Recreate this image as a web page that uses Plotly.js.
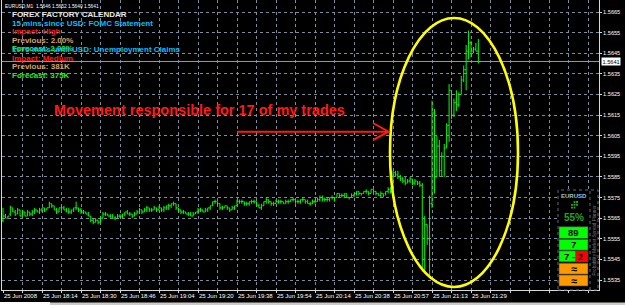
<!DOCTYPE html>
<html><head><meta charset="utf-8">
<script src="https://cdn.plot.ly/plotly-3.0.1.min.js"></script>
<style>html,body{margin:0;padding:0;background:#000;overflow:hidden}#chart{width:625px;height:305px}</style>
</head><body><div id="chart"></div>
<script>
// ---- data (EURUSD M1, 25 Jun 2008) ----
const barOpen = [
1.5564,1.5566,1.5565,1.5567,1.5570,1.5568,1.5567,1.5569,1.5566,1.5568,
1.5566,1.5568,1.5567,1.5568,1.5569,1.5568,1.5569,1.5570,1.5569,1.5570,
1.5572,1.5571,1.5569,1.5568,1.5570,1.5570,1.5569,1.5568,1.5568,1.5569,
1.5570,1.5570,1.5569,1.5568,1.5568,1.5567,1.5566,1.5564,1.5563,1.5564,
1.5563,1.5565,1.5567,1.5567,1.5566,1.5566,1.5565,1.5565,1.5566,1.5566,
1.5567,1.5568,1.5567,1.5567,1.5566,1.5567,1.5568,1.5569,1.5568,1.5569,
1.5570,1.5569,1.5569,1.5570,1.5569,1.5570,1.5569,1.5570,1.5571,1.5571,
1.5572,1.5572,1.5570,1.5569,1.5568,1.5568,1.5567,1.5567,1.5566,1.5567,
1.5568,1.5569,1.5569,1.5568,1.5569,1.5570,1.5571,1.5573,1.5573,1.5572,
1.5570,1.5570,1.5571,1.5570,1.5569,1.5570,1.5571,1.5573,1.5573,1.5573,
1.5572,1.5572,1.5573,1.5573,1.5573,1.5571,1.5570,1.5571,1.5573,1.5574,
1.5573,1.5572,1.5572,1.5573,1.5573,1.5573,1.5572,1.5573,1.5573,1.5574,
1.5574,1.5573,1.5573,1.5574,1.5574,1.5573,1.5572,1.5572,1.5573,1.5573,
1.5574,1.5575,1.5574,1.5574,1.5574,1.5575,1.5575,1.5575,1.5577,1.5576,
1.5576,1.5577,1.5575,1.5575,1.5576,1.5577,1.5578,1.5577,1.5577,1.5578,
1.5578,1.5577,1.5579,1.5578,1.5577,1.5576,1.5577,1.5577,1.5578,1.5579,
1.5578,1.5587,1.5586,1.5585,1.5584,1.5583,1.5582,1.5583,1.5584,1.5582,
1.5583,1.5582,1.5581,1.5545,1.5562,1.5555,1.5572,1.5616,1.5585,1.5600,
1.5588,1.5595,1.5599,1.5610,1.5627,1.5615,1.5621,1.5620,1.5625,1.5632,
1.5637,1.5646,1.5650,1.5646,1.5647,1.5646];
const barHigh = [
1.5570,1.5567,1.5566,1.5571,1.5570,1.5569,1.5570,1.5569,1.5569,1.5568,
1.5569,1.5568,1.5569,1.5570,1.5569,1.5570,1.5570,1.5570,1.5570,1.5573,
1.5572,1.5571,1.5570,1.5570,1.5571,1.5571,1.5570,1.5570,1.5569,1.5570,
1.5573,1.5570,1.5570,1.5569,1.5568,1.5568,1.5566,1.5565,1.5565,1.5564,
1.5566,1.5568,1.5568,1.5567,1.5567,1.5567,1.5566,1.5567,1.5567,1.5567,
1.5568,1.5569,1.5568,1.5567,1.5568,1.5569,1.5570,1.5569,1.5570,1.5571,
1.5570,1.5570,1.5571,1.5570,1.5571,1.5570,1.5571,1.5571,1.5572,1.5572,
1.5573,1.5572,1.5570,1.5569,1.5569,1.5568,1.5568,1.5568,1.5568,1.5568,
1.5570,1.5570,1.5569,1.5570,1.5570,1.5571,1.5573,1.5574,1.5573,1.5572,
1.5571,1.5571,1.5571,1.5570,1.5571,1.5571,1.5574,1.5574,1.5574,1.5573,
1.5573,1.5573,1.5574,1.5574,1.5573,1.5572,1.5572,1.5573,1.5575,1.5574,
1.5573,1.5573,1.5574,1.5574,1.5574,1.5573,1.5574,1.5574,1.5574,1.5575,
1.5574,1.5574,1.5574,1.5575,1.5574,1.5574,1.5573,1.5574,1.5574,1.5575,
1.5576,1.5576,1.5575,1.5575,1.5575,1.5576,1.5575,1.5577,1.5577,1.5577,
1.5577,1.5577,1.5575,1.5577,1.5577,1.5578,1.5578,1.5577,1.5578,1.5579,
1.5578,1.5579,1.5579,1.5578,1.5577,1.5578,1.5577,1.5578,1.5580,1.5580,
1.5588,1.5588,1.5588,1.5586,1.5585,1.5585,1.5584,1.5585,1.5584,1.5584,
1.5583,1.5583,1.5582,1.5566,1.5562,1.5576,1.5622,1.5618,1.5605,1.5603,
1.5597,1.5601,1.5611,1.5630,1.5627,1.5623,1.5627,1.5626,1.5634,1.5639,
1.5649,1.5656,1.5651,1.5648,1.5650,1.5652];
const barLow = [
1.5563,1.5565,1.5565,1.5566,1.5568,1.5566,1.5567,1.5566,1.5566,1.5566,
1.5566,1.5566,1.5566,1.5567,1.5568,1.5567,1.5568,1.5568,1.5569,1.5570,
1.5570,1.5569,1.5567,1.5568,1.5569,1.5569,1.5568,1.5567,1.5567,1.5568,
1.5569,1.5568,1.5567,1.5567,1.5567,1.5566,1.5563,1.5562,1.5563,1.5562,
1.5563,1.5565,1.5566,1.5566,1.5565,1.5565,1.5564,1.5565,1.5565,1.5565,
1.5566,1.5567,1.5566,1.5565,1.5566,1.5567,1.5567,1.5567,1.5568,1.5568,
1.5568,1.5568,1.5569,1.5568,1.5569,1.5568,1.5568,1.5569,1.5569,1.5570,
1.5571,1.5569,1.5568,1.5567,1.5567,1.5567,1.5566,1.5566,1.5566,1.5567,
1.5567,1.5568,1.5568,1.5568,1.5568,1.5569,1.5571,1.5572,1.5571,1.5569,
1.5569,1.5570,1.5569,1.5568,1.5569,1.5569,1.5571,1.5572,1.5572,1.5571,
1.5571,1.5571,1.5572,1.5572,1.5571,1.5570,1.5569,1.5571,1.5572,1.5572,
1.5571,1.5571,1.5572,1.5572,1.5572,1.5572,1.5572,1.5572,1.5573,1.5573,
1.5572,1.5572,1.5572,1.5573,1.5572,1.5572,1.5571,1.5572,1.5572,1.5573,
1.5573,1.5573,1.5573,1.5573,1.5573,1.5574,1.5573,1.5575,1.5575,1.5575,
1.5575,1.5575,1.5574,1.5575,1.5575,1.5576,1.5576,1.5576,1.5577,1.5577,
1.5576,1.5577,1.5577,1.5576,1.5576,1.5575,1.5575,1.5576,1.5577,1.5577,
1.5578,1.5585,1.5584,1.5583,1.5582,1.5581,1.5582,1.5582,1.5581,1.5581,
1.5581,1.5580,1.5539,1.5539,1.5552,1.5537,1.5570,1.5577,1.5585,1.5585,
1.5585,1.5585,1.5599,1.5602,1.5613,1.5614,1.5617,1.5619,1.5625,1.5631,
1.5627,1.5642,1.5643,1.5645,1.5646,1.5640];
const barClose = [
1.5566,1.5565,1.5566,1.5570,1.5568,1.5567,1.5569,1.5566,1.5568,1.5566,
1.5568,1.5567,1.5568,1.5569,1.5568,1.5569,1.5570,1.5569,1.5570,1.5572,
1.5571,1.5569,1.5568,1.5570,1.5570,1.5569,1.5568,1.5568,1.5569,1.5570,
1.5570,1.5569,1.5568,1.5568,1.5567,1.5566,1.5564,1.5563,1.5564,1.5563,
1.5565,1.5567,1.5567,1.5566,1.5566,1.5565,1.5565,1.5566,1.5566,1.5567,
1.5568,1.5567,1.5567,1.5566,1.5567,1.5568,1.5569,1.5568,1.5569,1.5570,
1.5569,1.5569,1.5570,1.5569,1.5570,1.5569,1.5570,1.5571,1.5571,1.5572,
1.5572,1.5570,1.5569,1.5568,1.5568,1.5567,1.5567,1.5566,1.5567,1.5568,
1.5569,1.5569,1.5568,1.5569,1.5570,1.5571,1.5573,1.5573,1.5572,1.5570,
1.5570,1.5571,1.5570,1.5569,1.5570,1.5571,1.5573,1.5573,1.5573,1.5572,
1.5572,1.5573,1.5573,1.5573,1.5571,1.5570,1.5571,1.5573,1.5574,1.5573,
1.5572,1.5572,1.5573,1.5573,1.5573,1.5572,1.5573,1.5573,1.5574,1.5574,
1.5573,1.5573,1.5574,1.5574,1.5573,1.5572,1.5572,1.5573,1.5573,1.5574,
1.5575,1.5574,1.5574,1.5574,1.5575,1.5575,1.5575,1.5577,1.5576,1.5576,
1.5577,1.5575,1.5575,1.5576,1.5577,1.5578,1.5577,1.5577,1.5578,1.5578,
1.5577,1.5579,1.5578,1.5577,1.5576,1.5577,1.5576,1.5578,1.5579,1.5578,
1.5587,1.5586,1.5585,1.5584,1.5583,1.5582,1.5583,1.5584,1.5582,1.5583,
1.5582,1.5581,1.5545,1.5562,1.5555,1.5572,1.5616,1.5585,1.5600,1.5588,
1.5595,1.5599,1.5610,1.5627,1.5615,1.5621,1.5620,1.5625,1.5632,1.5637,
1.5646,1.5650,1.5646,1.5647,1.5646,1.5641];
const timeLabels = ["25 Jun 2008","25 Jun 18:14","25 Jun 18:30","25 Jun 18:46","25 Jun 19:04",
  "25 Jun 19:20","25 Jun 19:38","25 Jun 19:54","25 Jun 20:14","25 Jun 20:38","25 Jun 20:57",
  "25 Jun 21:13","25 Jun 21:29"];
const priceTicks = [1.5535,1.5545,1.5555,1.5565,1.5575,1.5585,1.5595,1.5605,1.5615,1.5625,1.5635,1.5645,1.5655,1.5665];
const symbolHeader = "EURUSD,M1  1.5646 1.5652 1.5640 1.5641";
const calendarLines = ["FOREX FACTORY CALENDAR","15 mins since USD: FOMC Statement","Impact: High","Previous: 2.00%",
  "Forecast: 2.00%","1075 mins until USD: Unemployment Claims","Impact: Medium","Previous: 381K","Forecast: 375K"];
const calendarColors = ["#e8e8e8","#00bfff","#ff1a1a","#d6a468","#22ee22","#00bfff","#ff1a1a","#d6a468","#22ee22"];
const calendarRows = [14.5,23.3,31.8,40.3,48.8,49.3,58.3,66.8,75.2];
const noteText = "Movement responsible for 17 of my trades";
const widgetPair = "EURUSD";
const widgetPct = "55%";
const widgetRows = ["89","7","7 - 2","≈","≈"];

// ---- layout helpers (pixel -> paper) ----
const PL = 2, PR = 599, PT = 0, PB = 290;
const px = x => (x - PL) / (PR - PL);
const py = y => (PB - y) / (PB - PT);
const FONT = "Liberation Sans, Arial, sans-serif";

const barIndex = barClose.map((_, i) => i);
const xTickVals = []; for (let v = 0; v <= 240; v += 8) xTickVals.push(v);
const xTickText = xTickVals.map(v => (v % 16 === 0 && v / 16 < timeLabels.length) ? timeLabels[v / 16] : "");
const lastClose = barClose[barClose.length - 1];

const trace = {
  type: "ohlc", x: barIndex, open: barOpen, high: barHigh, low: barLow, close: barClose,
  increasing: {line: {color: "#00ff00", width: 1}},
  decreasing: {line: {color: "#00ff00", width: 1}},
  tickwidth: 0.45, hoverinfo: "skip", showlegend: false
};

const annotations = [];
annotations.push({xref:"paper", yref:"paper", x:px(3), y:py(6), xanchor:"left", yanchor:"middle", showarrow:false,
  text:symbolHeader, font:{family:"Liberation Sans Narrow, Liberation Sans, sans-serif", size:4.8, color:"#ffffff"}});
calendarLines.forEach((t, k) => annotations.push({xref:"paper", yref:"paper", x:px(10), y:py(calendarRows[k]),
  xanchor:"left", yanchor:"middle", showarrow:false, text:"<b>" + t + "</b>",
  font:{family:FONT, size:8, color:calendarColors[k]}}));
annotations.push({xref:"paper", yref:"paper", x:px(52), y:py(110), xanchor:"left", yanchor:"middle", showarrow:false,
  text:"<b>" + noteText + "</b>", font:{family:FONT, size:14.5, color:"#ff1a1a"}});
// current price box
annotations.push({xref:"paper", yref:"y", x:px(601), y:lastClose, xanchor:"left", yanchor:"middle", showarrow:false,
  text:lastClose.toFixed(4), bgcolor:"#ffffff", borderpad:0.5, font:{family:FONT, size:5.6, color:"#000000"}});
// widget texts
annotations.push({xref:"paper", yref:"paper", x:px(574), y:py(196), xanchor:"center", yanchor:"middle", showarrow:false,
  text:"<b>" + widgetPair + "</b>", font:{family:FONT, size:6, color:"#9cc4d8"}});
annotations.push({xref:"paper", yref:"paper", x:px(574), y:py(217), xanchor:"center", yanchor:"middle", showarrow:false,
  text:"<b>" + widgetPct + "</b>", font:{family:FONT, size:10, color:"#22a522"}});
const boxY = [[226.7,238.5],[239.3,250.2],[250.8,261.8],[263.2,274.2],[275,286]];
widgetRows.forEach((t, k) => annotations.push({xref:"paper", yref:"paper", x:px(573.5), y:py((boxY[k][0]+boxY[k][1])/2),
  xanchor:"center", yanchor:"middle", showarrow:false, text:"<b>" + t + "</b>",
  font:{family:FONT, size:k < 3 ? 9.5 : 11, color:"#000000"}}));
annotations.push({xref:"paper", yref:"paper", x:px(593.5), y:py(241), xanchor:"center", yanchor:"middle", showarrow:false,
  textangle:-90, text:"Probability Market Spread Planner", font:{family:FONT, size:4.6, color:"#7a7a7a"}});

const shapes = [];
// current price line
shapes.push({type:"line", xref:"paper", yref:"y", x0:0, x1:1, y0:lastClose, y1:lastClose, line:{color:"#8e98a8", width:1}});
// yellow ellipse
shapes.push({type:"circle", xref:"paper", yref:"paper", x0:px(390), x1:px(518), y0:py(287), y1:py(18),
  line:{color:"#ffff00", width:2.6}});
// red arrow
shapes.push({type:"line", xref:"paper", yref:"paper", x0:px(237), x1:px(387), y0:py(131.7), y1:py(131.7), line:{color:"#ff1a1a", width:2}});
shapes.push({type:"path", xref:"paper", yref:"paper",
  path:`M ${px(373)} ${py(123)} L ${px(388.5)} ${py(131.7)} L ${px(373)} ${py(140)}`, line:{color:"#ff1a1a", width:2}});
// widget panel
shapes.push({type:"rect", xref:"paper", yref:"paper", x0:px(558), x1:px(598), y0:py(290), y1:py(190),
  fillcolor:"#000000", line:{color:"#5d6b7c", width:1, dash:"dot"}});
shapes.push({type:"line", xref:"paper", yref:"paper", x0:px(590), x1:px(590), y0:py(290), y1:py(190),
  line:{color:"#5d6b7c", width:1, dash:"dot"}});
const dots = [[574.5,202],[577,202],[572,204.8],[574.5,204.8],[577,204.8],[572,207.6],[574.5,207.6]];
dots.forEach(d => shapes.push({type:"rect", xref:"paper", yref:"paper", x0:px(d[0]-0.9), x1:px(d[0]+0.9),
  y0:py(d[1]+0.9), y1:py(d[1]-0.9), fillcolor:"#28a828", line:{width:0}}));
const boxFill = ["#00ff00","#00ff00","#00ff00","#ff9900","#ff9900"];
boxY.forEach((b, k) => shapes.push({type:"rect", xref:"paper", yref:"paper", x0:px(559), x1:px(588), y0:py(b[1]), y1:py(b[0]),
  fillcolor:boxFill[k], line:{color:"#404040", width:0.6}, layer:"above"}));
shapes.push({type:"rect", xref:"paper", yref:"paper", x0:px(575.7), x1:px(588), y0:py(boxY[2][1]), y1:py(boxY[2][0]),
  fillcolor:"#ff0000", line:{color:"#404040", width:0.6}});
// window bottom strip
shapes.push({type:"rect", xref:"paper", yref:"paper", x0:px(0), x1:px(625), y0:py(305), y1:py(302.5),
  fillcolor:"#cfcbc3", line:{width:0}});
shapes.push({type:"rect", xref:"paper", yref:"paper", x0:px(0), x1:px(50), y0:py(305), y1:py(302),
  fillcolor:"#ffffff", line:{width:0}});

const layout = {
  width:625, height:305, margin:{l:PL, r:625-PR, t:PT, b:305-PB, pad:0},
  paper_bgcolor:"#000000", plot_bgcolor:"#000000", showlegend:false,
  font:{family:FONT, size:6, color:"#ffffff"},
  xaxis:{range:[-0.41, 244.5], rangeslider:{visible:false}, tickmode:"array", tickvals:xTickVals, ticktext:xTickText,
    tickangle:0, ticklabelposition:"outside right", ticks:"outside", ticklen:2, tickcolor:"#d8d8d8",
    tickfont:{family:FONT, size:6, color:"#ffffff"},
    showgrid:true, gridcolor:"#7d8c9e", gridwidth:1, griddash:"dot",
    showline:true, mirror:true, linecolor:"#d8d8d8", linewidth:1, zeroline:false, fixedrange:true},
  yaxis:{side:"right", range:[1.553015, 1.567082], tickmode:"array", tickvals:priceTicks,
    ticktext:priceTicks.map(v => v.toFixed(4)), tickangle:0, ticks:"outside", ticklen:2, tickcolor:"#d8d8d8",
    tickfont:{family:FONT, size:5.6, color:"#ffffff"},
    showgrid:true, gridcolor:"#7d8c9e", gridwidth:1, griddash:"dot",
    showline:true, mirror:true, linecolor:"#d8d8d8", linewidth:1, zeroline:false, fixedrange:true},
  annotations:annotations, shapes:shapes
};
Plotly.newPlot("chart", [trace], layout, {displayModeBar:false, staticPlot:true});
</script></body></html>
